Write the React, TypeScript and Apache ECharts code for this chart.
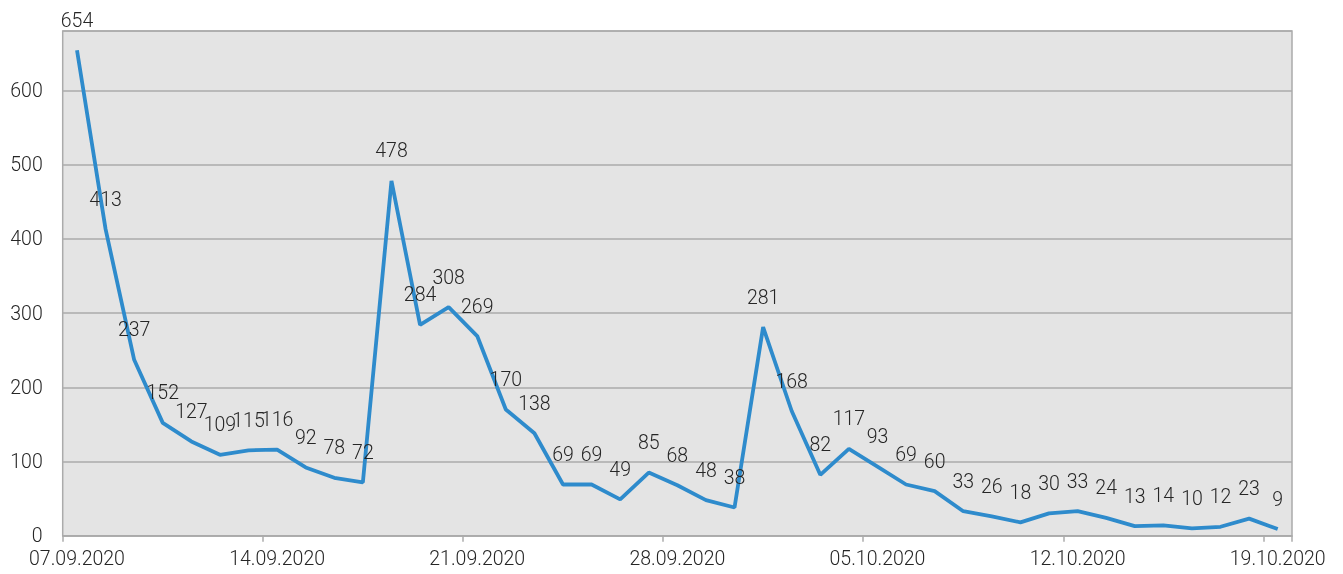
import React, { useEffect, useRef } from "react";
import * as echarts from "echarts";

const dates: string[] = [
  "07.09.2020", "08.09.2020", "09.09.2020", "10.09.2020", "11.09.2020", "12.09.2020", "13.09.2020",
  "14.09.2020", "15.09.2020", "16.09.2020", "17.09.2020", "18.09.2020", "19.09.2020", "20.09.2020",
  "21.09.2020", "22.09.2020", "23.09.2020", "24.09.2020", "25.09.2020", "26.09.2020", "27.09.2020",
  "28.09.2020", "29.09.2020", "30.09.2020", "01.10.2020", "02.10.2020", "03.10.2020", "04.10.2020",
  "05.10.2020", "06.10.2020", "07.10.2020", "08.10.2020", "09.10.2020", "10.10.2020", "11.10.2020",
  "12.10.2020", "13.10.2020", "14.10.2020", "15.10.2020", "16.10.2020", "17.10.2020", "18.10.2020",
  "19.10.2020",
];

const values: number[] = [
  654, 413, 237, 152, 127, 109, 115, 116, 92, 78, 72, 478, 284, 308, 269, 170, 138, 69, 69, 49, 85,
  68, 48, 38, 281, 168, 82, 117, 93, 69, 60, 33, 26, 18, 30, 33, 24, 13, 14, 10, 12, 23, 9,
];

const yMin = 0;
const yMax = 680;
const yInterval = 100;

export default function App() {
  const ref = useRef<HTMLDivElement>(null);
  useEffect(() => {
    if (!ref.current) return;
    const chart = echarts.init(ref.current, undefined, { renderer: "svg" });
    const font = "Roboto, 'Noto Sans', sans-serif";
    chart.setOption({
      animation: false,
      textStyle: { fontFamily: font },
      grid: {
        left: 62.7,
        top: 31,
        right: 51,
        bottom: 38.3,
        show: true,
        backgroundColor: "#e4e4e4",
        borderColor: "#ababab",
        borderWidth: 1.5,
      },
      xAxis: {
        type: "category",
        data: dates,
        boundaryGap: true,
        axisLine: { show: true, lineStyle: { color: "#ababab", width: 1.5 } },
        axisTick: { show: true, interval: 6, length: 6, lineStyle: { color: "#ababab", width: 1.5 } },
        axisLabel: {
          interval: 6,
          margin: 13,
          fontSize: 19.5,
          fontWeight: 300,
          color: "#262626",
          fontFamily: font,
        },
        splitLine: { show: false },
      },
      yAxis: {
        type: "value",
        min: yMin,
        max: yMax,
        interval: yInterval,
        axisLine: { show: false },
        axisTick: { show: false },
        axisLabel: {
          margin: 20,
          fontSize: 19.5,
          fontWeight: 300,
          color: "#262626",
          fontFamily: font,
          showMaxLabel: false,
        },
        splitLine: { show: true, lineStyle: { color: "#ababab", width: 1.5 } },
      },
      series: [
        {
          type: "line",
          data: values,
          symbol: "circle",
          symbolSize: 1,
          showSymbol: true,
          itemStyle: { color: "rgba(0,0,0,0)", borderWidth: 0 },
          lineStyle: { color: "#2e8bcc", width: 3.8 },
          label: {
            show: true,
            position: "top",
            distance: 19.5,
            fontSize: 19.5,
            fontWeight: 300,
            color: "#262626",
            fontFamily: font,
          },
          labelLayout: { hideOverlap: false },
          emphasis: { disabled: true },
        },
      ],
    });
    return () => chart.dispose();
  }, []);
  return (
    <div
      ref={ref}
      style={{ position: "fixed", left: 0, top: 0, width: 1343, height: 574 }}
    />
  );
}
